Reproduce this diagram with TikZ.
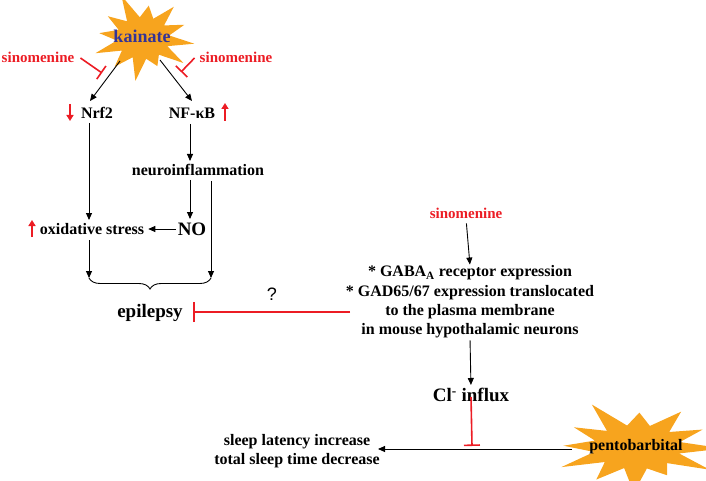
\documentclass[tikz,border=0pt]{standalone}
\usepackage{fontspec}
\setmainfont{Liberation Serif}
\newfontfamily\sansq{Liberation Sans}
\usetikzlibrary{arrows.meta,decorations.pathreplacing,calc}
\definecolor{starorange}{RGB}{247,164,30}
\definecolor{inhred}{RGB}{236,28,36}
\definecolor{kblue}{RGB}{52,52,150}
\newcommand\burst[5]{%
 \fill[starorange] plot[samples at={0,15,...,345}]
 ({#1+(mod(\x,30)==0 ? (1+0.14*sin(5*\x)+0.08*cos(3*\x))*#3 : 0.55*#3)*cos(\x+#5)},
  {#2+(mod(\x,30)==0 ? (1+0.14*sin(5*\x)+0.08*cos(3*\x))*#4 : 0.55*#4)*sin(\x+#5)}) -- cycle;}
\begin{document}
\begin{tikzpicture}[x=1pt,y=-1pt,
 lbl/.style={font=\bfseries\fontsize{16}{19.3}\selectfont, inner sep=0pt},
 big/.style={font=\bfseries\fontsize{19}{22}\selectfont, inner sep=0pt},
 redlbl/.style={inner sep=0pt, text=inhred, font=\bfseries\fontsize{15}{18}\selectfont},
 arr/.style={draw=black, line width=0.9pt, -{Triangle[length=7pt,width=6pt]}},
 inh/.style={draw=inhred, line width=1.6pt, -{Bar[width=16pt,line width=1.6pt]}},
 updn/.style={draw=inhred, line width=1.8pt, -{Triangle[length=6pt,width=7pt]}},
]
\useasboundingbox (0,0) rectangle (706,481);
% stars
\burst{143}{38}{48}{38}{8}
\burst{637}{447}{80}{40}{2}
% nodes
\node[inner sep=0pt,text=kblue,font=\bfseries\fontsize{18}{20}\selectfont] (kainate) at (142,36) {kainate};
\node[redlbl] (sinL) at (38,57) {sinomenine};
\node[redlbl] (sinR) at (236,57) {sinomenine};
\node[lbl] (nrf2) at (97,113) {Nrf2};
\node[lbl] (nfkb) at (192,113) {NF-κB};
\node[lbl] (neuro) at (198,170) {neuroinflammation};
\node[big] (no) at (192,229) {NO};
\node[lbl] (ox) at (92,229) {oxidative stress};
\node[big] (epi) at (150,313) {epilepsy};
\node[font=\sansq\fontsize{18}{20}\selectfont, inner sep=0pt] (q) at (272,294) {?};
\node[redlbl] (sin3) at (466,213) {sinomenine};
\node[lbl, align=center] (gaba) at (470,302) {* GABA\textsubscript{A} receptor expression\\ * GAD65/67 expression translocated\\ to the plasma membrane\\ in mouse hypothalamic neurons};
\node[big] (cl) at (471,395) {Cl\textsuperscript{-} influx};
\node[lbl, align=center] (sleep) at (297,451) {sleep latency increase\\ total sleep time decrease};
\node[lbl] (pento) at (636,447) {pentobarbital};
% coordinates
\coordinate (kL) at (120,61);
\coordinate (kR) at (160,60);
\coordinate (nrf2in) at (90,101);
\coordinate (nfkbin) at (192,101);
\coordinate (iL) at (102,73);
\coordinate (iR) at (181,72);
\coordinate (c1a) at (89,123);
\coordinate (c1b) at (89,220);
\coordinate (c2a) at (190,124);
\coordinate (c2b) at (190,161);
\coordinate (c3a) at (190,180);
\coordinate (c3b) at (190,219);
\coordinate (c4a) at (211,181);
\coordinate (c4b) at (211,278);
\coordinate (c5a) at (89,240);
\coordinate (c5b) at (89,278);
\coordinate (epiR) at (193,312);
\coordinate (gabaL) at (350,312);
\coordinate (clI) at (472,446);
\coordinate (pentoL) at (572,449);
\coordinate (sleepR) at (378,449);
% connectors
\draw[arr] (kL) -- (nrf2in);
\draw[arr] (kR) -- (nfkbin);
\draw[inh] ([shift={(6,1)}]sinL.east) -- (iL);
\draw[inh] ([shift={(-5,1)}]sinR.west) -- (iR);
\draw[arr] (c1a) -- (c1b);
\draw[arr] (c2a) -- (c2b);
\draw[arr] (c3a) -- (c3b);
\draw[arr] (c4a) -- (c4b);
\draw[arr] (c5a) -- (c5b);
\draw[arr] ([xshift=-2pt]no.west) -- ([xshift=4pt]ox.east);
\draw[line width=0.9pt, decorate, decoration={brace, amplitude=11pt}] (c4b) -- (c5b);
\draw[inh, -{Bar[width=20pt,line width=1.6pt]}] (gabaL) -- (epiR);
\draw[arr, shorten <=5pt, shorten >=1pt] (sin3.south) -- (gaba.north);
\draw[arr, shorten <=2pt, shorten >=3pt] (gaba.south) -- (cl.north);
\draw[inh] ([yshift=5pt]cl.south) -- (clI);
\draw[arr] (pentoL) -- (sleepR);
% red up/down arrows
\draw[updn] (70,104) -- (70,121);
\draw[updn] (225,121) -- (225,103);
\draw[updn] (32,237) -- (32,220);
\end{tikzpicture}
\end{document}
